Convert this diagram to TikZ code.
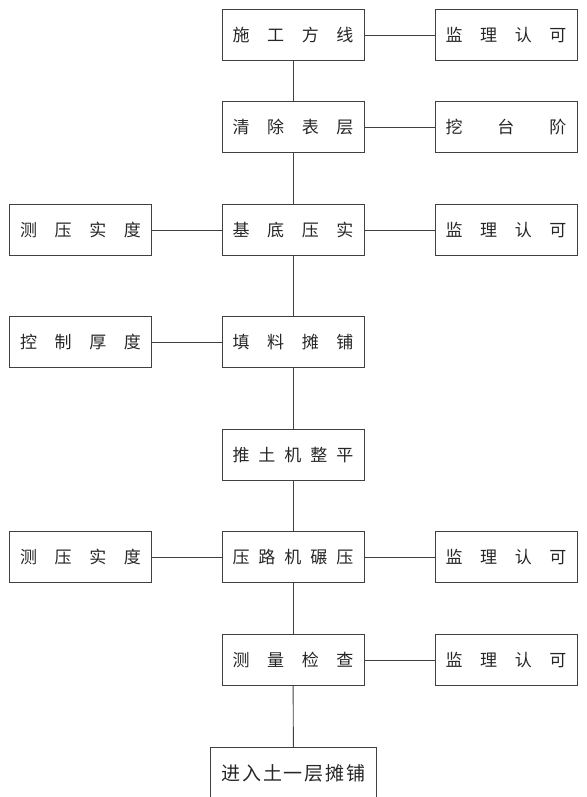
\documentclass[tikz,border=0pt]{standalone}
\usepackage{fontspec}
\newfontfamily\cjk{Noto Sans CJK SC}
\tikzset{box/.style={draw=black!75,line width=0.9pt,minimum width=142pt,minimum height=51pt,inner sep=0pt,text=black!85,font=\cjk\fontsize{17}{17}\selectfont}}
\newcommand{\sptext}[1]{\makebox[121pt][s]{#1}}
\begin{document}
\begin{tikzpicture}[x=1pt,y=1pt]
\useasboundingbox (0,0) rectangle (586,-797);
\clip (0,0) rectangle (586,-797);
% main column
\node[box](m1)at(293,-35){\sptext{施\hfill 工\hfill 方\hfill 线}};
\node[box](m2)at(293,-127){\sptext{清\hfill 除\hfill 表\hfill 层}};
\node[box](m3)at(293,-230){\sptext{基\hfill 底\hfill 压\hfill 实}};
\node[box](m4)at(293,-342){\sptext{填\hfill 料\hfill 摊\hfill 铺}};
\node[box](m5)at(293,-455){\sptext{推\hfill 土\hfill 机\hfill 整\hfill 平}};
\node[box](m6)at(293,-557){\sptext{压\hfill 路\hfill 机\hfill 碾\hfill 压}};
\node[box](m7)at(293,-660){\sptext{测\hfill 量\hfill 检\hfill 查}};
\node[box,minimum width=166pt,minimum height=52pt,anchor=north,font=\cjk\fontsize{19}{19}\selectfont](m8)at(293.5,-747){\makebox[144pt][s]{进\hfill 入\hfill 土\hfill 一\hfill 层\hfill 摊\hfill 铺}};
% right column
\node[box](r1)at(506,-35){\sptext{监\hfill 理\hfill 认\hfill 可}};
\node[box](r2)at(506,-127){\sptext{挖\hfill 台\hfill 阶}};
\node[box](r3)at(506,-230){\sptext{监\hfill 理\hfill 认\hfill 可}};
\node[box](r6)at(506,-557){\sptext{监\hfill 理\hfill 认\hfill 可}};
\node[box](r7)at(506,-660){\sptext{监\hfill 理\hfill 认\hfill 可}};
% left column
\node[box](l3)at(80.5,-230){\sptext{测\hfill 压\hfill 实\hfill 度}};
\node[box](l4)at(80.5,-342){\sptext{控\hfill 制\hfill 厚\hfill 度}};
\node[box](l6)at(80.5,-557){\sptext{测\hfill 压\hfill 实\hfill 度}};
\begin{scope}[draw=black!75,line width=0.9pt]
\draw(m1)--(m2);\draw(m2)--(m3);\draw(m3)--(m4);\draw(m4)--(m5);
\draw(m5)--(m6);\draw(m6)--(m7);\draw(m7)--(m8);
\draw(m1)--(r1);\draw(m2)--(r2);\draw(m3)--(r3);\draw(m6)--(r6);\draw(m7)--(r7);
\draw(l3)--(m3);\draw(l4)--(m4);\draw(l6)--(m6);
\end{scope}
\end{tikzpicture}
\end{document}
